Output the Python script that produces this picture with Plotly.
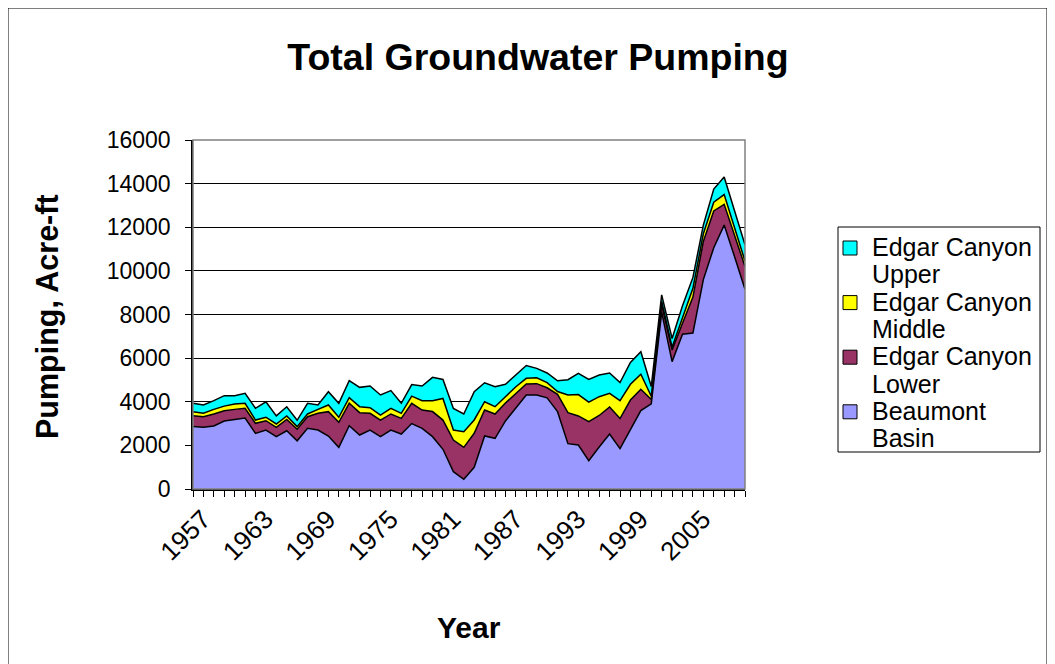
import plotly.graph_objects as go

years = list(range(1957, 2011))

beaumont = [2860, 2830, 2890, 3120, 3190, 3250, 2550, 2700, 2400, 2670,
            2210, 2780, 2705, 2430, 1910, 2900, 2475, 2705, 2400, 2705,
            2520, 3000, 2780, 2400, 1820, 795, 445, 995, 2430, 2323,
            3120, 3740, 4310, 4310, 4180, 3546, 2080, 2017, 1299, 1925,
            2522, 1850, 2740, 3592, 3900, 8100, 5840, 7100, 7150, 9600,
            11060, 12100, 10650, 9160]
lower = [500, 485, 550, 470, 460, 450, 460, 430, 430, 520,
         530, 535, 765, 1115, 1145, 1030, 1025, 765, 760, 735,
         720, 930, 840, 1150, 1340, 1450, 1465, 1560, 1190, 1115,
         820, 645, 505, 520, 460, 794, 1420, 1333, 1788, 1445,
         1238, 1380, 1340, 980, 200, 350, 530, 500, 1650, 1750,
         1690, 950, 950, 1040]
middle = [180, 155, 210, 210, 250, 230, 150, 160, 150, 160,
          120, 125, 180, 305, 235, 260, 275, 260, 230, 260,
          230, 330, 430, 500, 990, 460, 720, 610, 380, 335,
          290, 305, 260, 270, 240, 130, 810, 980, 893, 863,
          626, 820, 720, 690, 150, 150, 130, 300, 400, 350,
          400, 450, 380, 250]
upper = [390, 380, 400, 480, 380, 460, 540, 710, 370, 420,
         290, 490, 200, 610, 640, 775, 885, 990, 920, 810,
         460, 530, 670, 1070, 870, 990, 810, 1300, 870, 920,
         570, 560, 585, 430, 440, 490, 700, 973, 1048, 994,
         934, 830, 1000, 1030, 450, 300, 400, 500, 500, 400,
         600, 800, 770, 750]

tick_labels = {1957: "1957", 1963: "1963", 1969: "1969", 1975: "1975",
               1981: "1981", 1987: "1987", 1993: "1993", 1999: "1999", 2005: "2005"}

series = [
    (["Beaumont", "Basin"], beaumont, "#9999FF"),
    (["Edgar Canyon", "Lower"], lower, "#993366"),
    (["Edgar Canyon", "Middle"], middle, "#FFFF00"),
    (["Edgar Canyon", "Upper"], upper, "#00FFFF"),
]

font = "Arial, Liberation Sans, sans-serif"

# the page puts the figure 8px in from the top left, so work in page pixels minus 8
OFF = 8
W, H = 1055, 664
L, R, T, B = 193 - OFF, 745 - OFF, 140 - OFF, 489 - OFF


def px(x):
    return (x - OFF - L) / (R - L)


def py(y):
    return (B - (y - OFF)) / (B - T)


fig = go.Figure()
for name, vals, color in series:
    fig.add_trace(go.Scatter(x=years, y=vals, stackgroup="one", mode="lines",
                             line=dict(color="black", width=1.5), fillcolor=color,
                             name=" ".join(name), showlegend=False, hoverinfo="skip"))

annotations = [
    dict(text="<b>Year</b>", x=0.5, y=py(627), xref="paper", yref="paper",
         showarrow=False, font=dict(size=30), xanchor="center", yanchor="middle"),
    dict(text="<b>Pumping, Acre-ft</b>", x=px(47), y=py(317), xref="paper", yref="paper",
         showarrow=False, font=dict(size=30.5), textangle=-90,
         xanchor="center", yanchor="middle"),
]
shapes = [
    dict(type="rect", xref="paper", yref="paper", x0=0, x1=1, y0=0, y1=1,
         line=dict(color="#808080", width=1.5), layer="above"),
    dict(type="rect", xref="paper", yref="paper", x0=px(8), x1=px(1047),
         y0=py(680), y1=py(8), line=dict(color="black", width=1)),
    # legend box
    dict(type="rect", xref="paper", yref="paper", x0=px(838), x1=px(1040),
         y0=py(452), y1=py(227), line=dict(color="black", width=1),
         fillcolor="white"),
]

# legend entries, top to bottom
line_h = 27.3
for i, (name, vals, color) in enumerate(reversed(series)):
    y1 = 247 + 2 * i * line_h
    shapes.append(dict(type="rect", xref="paper", yref="paper",
                       x0=px(843), x1=px(857), y0=py(y1 + 8), y1=py(y1 - 6),
                       fillcolor=color, line=dict(color="black", width=1)))
    for j, part in enumerate(name):
        annotations.append(dict(text=part, x=px(870), y=py(y1 + j * line_h),
                                xref="paper", yref="paper", showarrow=False,
                                xanchor="left", yanchor="middle", font=dict(size=25)))

fig.update_layout(
    width=W, height=H,
    margin=dict(l=L, r=W - R, t=T, b=H - B, autoexpand=False),
    paper_bgcolor="white", plot_bgcolor="white",
    font=dict(family=font, size=23, color="black"),
    title=dict(text="<b>Total Groundwater Pumping</b>", x=(538 - OFF) / W,
               y=1 - (57 - OFF) / H, xanchor="center", yanchor="middle",
               font=dict(size=37.5)),
    showlegend=False,
    xaxis=dict(range=[1957, 2010], tickvals=years,
               ticktext=[tick_labels.get(y, "") for y in years],
               tickangle=-45, ticks="outside", ticklen=6, tickcolor="black",
               tickfont=dict(size=26), ticklabelshift=10, ticklabelstandoff=-3,
               showline=True, linecolor="black", linewidth=1.5,
               showgrid=False, zeroline=False, automargin=False),
    yaxis=dict(range=[0, 16000], dtick=2000, tickformat="d", ticks="outside",
               ticklen=6, tickcolor="black", showline=True, linecolor="black",
               linewidth=1.5, showgrid=True, gridcolor="black", gridwidth=1,
               zeroline=False, ticklabelstandoff=10, automargin=False),
    annotations=annotations,
    shapes=shapes,
)

fig.write_html("out.html")
